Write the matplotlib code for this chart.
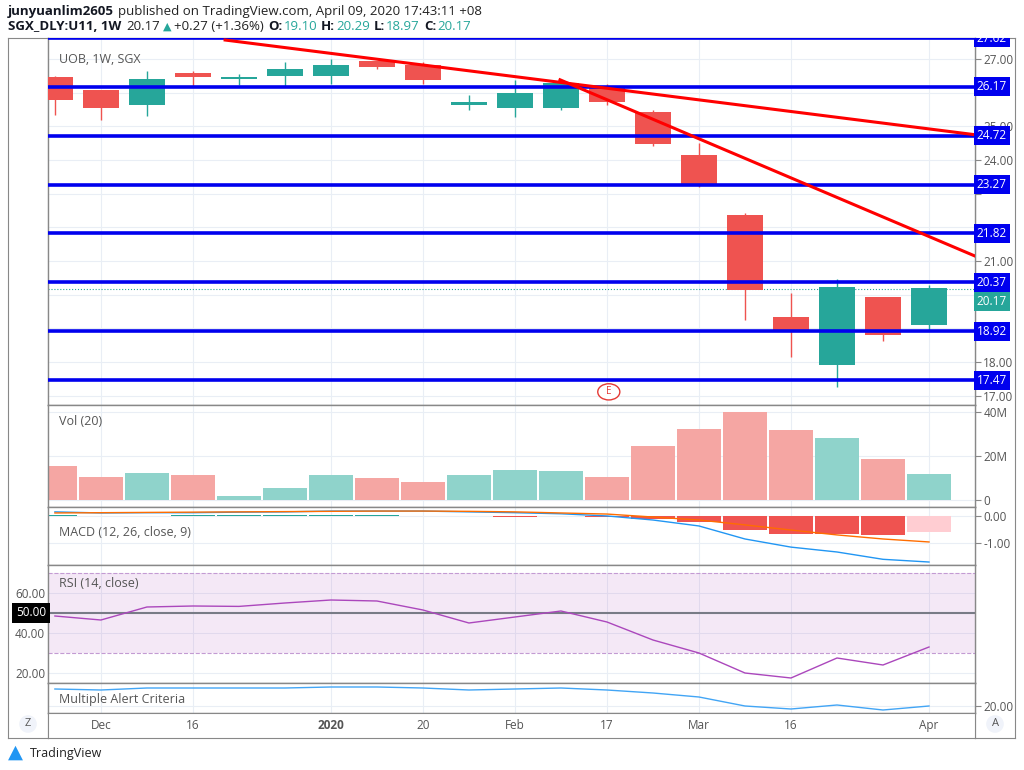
import numpy as np
import matplotlib
matplotlib.use("Agg")
import matplotlib.pyplot as plt
from matplotlib.patches import Circle
from matplotlib.transforms import Bbox, TransformedBbox

W, H = 1024, 770

# Weekly OHLC (index 0 = week of 25 Nov 2019)
opens = [26.44, 26.05, 25.63, 26.55, 26.41, 26.50, 26.50, 26.90, 26.79, 25.63,
         25.55, 25.55, 26.14, 25.40, 24.12, 22.34, 19.31, 17.92, 19.91, 19.10]
highs = [26.50, 26.05, 26.64, 26.64, 26.55, 26.90, 27.00, 26.95, 26.90, 25.93,
         26.38, 26.38, 26.26, 25.49, 24.50, 22.43, 20.06, 20.47, 19.91, 20.29]
lows = [25.34, 25.19, 25.30, 26.20, 26.23, 26.20, 26.26, 26.70, 26.26, 25.49,
        25.28, 25.49, 25.63, 24.42, 23.20, 19.25, 18.16, 17.27, 18.63, 18.97]
closes = [25.78, 25.55, 26.38, 26.47, 26.44, 26.67, 26.80, 26.76, 26.38, 25.69,
          25.96, 26.26, 25.72, 24.48, 23.23, 20.15, 18.96, 20.20, 18.81, 20.17]
volumes = [15.5, 10.5, 12.3, 11.4, 1.8, 5.5, 11.4, 10.0, 8.2, 11.4,
           13.6, 13.2, 10.5, 24.5, 32.3, 40.0, 31.8, 28.2, 18.6, 11.8]
macd = [0.15, 0.11, 0.12, 0.12, 0.14, 0.15, 0.18, 0.18, 0.18, 0.15,
        0.12, 0.08, 0.00, -0.15, -0.37, -0.85, -1.15, -1.33, -1.60, -1.70]
signal = [0.11, 0.12, 0.13, 0.14, 0.15, 0.16, 0.17, 0.18, 0.18, 0.17,
          0.15, 0.11, 0.07, -0.04, -0.15, -0.33, -0.52, -0.70, -0.85, -0.96]
hist = [0.02, 0.01, 0.01, 0.02, 0.02, 0.03, 0.03, 0.03, 0.01, -0.02,
        -0.03, -0.01, -0.04, -0.10, -0.24, -0.52, -0.67, -0.67, -0.72, -0.60]
rsi = [48.5, 46.5, 53.0, 53.5, 53.3, 55.0, 56.5, 56.0, 51.5, 45.0,
       48.0, 51.0, 45.5, 36.5, 30.0, 20.0, 17.5, 27.5, 24.0, 33.0]
alert = [37, 36, 38, 38, 38, 38, 39, 39, 38, 36, 37, 38, 36, 33, 29, 20, 17, 21, 16, 20]

levels = [27.62, 26.17, 24.72, 23.27, 21.82, 20.37, 18.92, 17.47]
trend1 = ([3.7, 20.0], [27.56, 24.75])
trend2 = ([10.98, 20.0], [26.38, 21.15])

date_ticks = [1, 3, 6, 8, 10, 12, 14, 16, 19]
date_labels = ["Dec", "16", "2020", "20", "Feb", "17", "Mar", "16", "Apr"]

UP, DN = "#26a69a", "#ef5350"
UP_L, DN_L = "#8fd3cb", "#f5a6a3"
GRID = "#e9eef5"
TXT = "#555555"
XL = (-0.15, 20.0)

plt.rcParams["font.family"] = "Open Sans"
fig = plt.figure(figsize=(W / 100, H / 100), dpi=100)


def rect(x0, y0, x1, y1):
    return [x0 / W, 1 - y1 / H, (x1 - x0) / W, (y1 - y0) / H]


def style(ax, yl):
    ax.set_xlim(*XL)
    ax.set_ylim(*yl)
    ax.set_xticks(date_ticks)
    ax.tick_params(labelbottom=False, length=0)
    ax.yaxis.tick_right()
    ax.tick_params(axis="y", length=4, color="#888", labelsize=8.5, labelcolor=TXT, pad=2)
    ax.grid(True, color=GRID, lw=0.8)
    ax.set_axisbelow(True)
    for s in ax.spines.values():
        s.set_color("#888")
        s.set_linewidth(1)


x = np.arange(len(opens))
cols = [UP if c >= o else DN for o, c in zip(opens, closes)]
panel_clip = TransformedBbox(Bbox([[0, 1 - 738 / H], [1, 1 - 38 / H]]), fig.transFigure)

# Price panel
ax = fig.add_axes(rect(48, 38, 975, 405))
style(ax, (16.73, 27.62))
ax.set_yticks(range(17, 28))
ax.set_yticklabels(["17.00", "18.00", "", "", "21.00", "", "", "24.00", "25.00", "", "27.00"])
ax.vlines(x, lows, highs, color=cols, lw=1, zorder=3)
ax.bar(x, np.abs(np.array(closes) - np.array(opens)) + 0.03, 0.78,
       bottom=np.minimum(opens, closes), color=cols, zorder=3)
for lv in levels:
    ax.axhline(lv, color="#0000ee", lw=2.6, zorder=4)
    t = ax.text(1.002, lv, f"{lv:.2f}", transform=ax.get_yaxis_transform(), color="white",
                fontsize=8.5, va="center", ha="left", zorder=6,
                bbox=dict(boxstyle="square,pad=0.25", fc="#0000ee", ec="none"))
    t.set_clip_box(panel_clip)
    t.set_clip_on(True)
ax.axhline(closes[-1], color=UP, lw=0.8, ls=":", zorder=2)
ax.annotate(f"{closes[-1]:.2f}", (1.002, closes[-1]), xycoords=ax.get_yaxis_transform(),
            xytext=(0, -9), textcoords="offset points", color="white", fontsize=8.5,
            va="center", ha="left", annotation_clip=False,
            bbox=dict(boxstyle="square,pad=0.25", fc=UP, ec="none"))
ax.plot(*trend1, color="#ff0000", lw=2.2, zorder=5, clip_on=False)
ax.plot(*trend2, color="#ff0000", lw=2.2, zorder=5)
ax.add_patch(Circle((12.04, 17.12), 0.24, transform=ax.transData, fc="white",
                    ec="#e53935", lw=1, zorder=5))
ax.text(12.04, 17.12, "E", color="#e53935", fontsize=7, ha="center", va="center", zorder=6)
ax.text(0.012, 0.96, "UOB, 1W, SGX", transform=ax.transAxes, fontsize=9, color=TXT, va="top")

# Volume panel
av = fig.add_axes(rect(48, 405, 975, 507))
style(av, (-3.2, 43.2))
av.set_yticks([0, 20, 40])
av.set_yticklabels(["0", "20M", "40M"])
av.bar(x, volumes, 0.96, color=[UP_L if c == UP else DN_L for c in cols])
av.text(0.012, 0.9, "Vol (20)", transform=av.transAxes, fontsize=9, color=TXT, va="top")

# MACD panel
am = fig.add_axes(rect(48, 507, 975, 565))
style(am, (-1.81, 0.33))
am.set_yticks([0, -1])
am.set_yticklabels(["0.00", "-1.00"])
hc = []
for i, h in enumerate(hist):
    prev = hist[i - 1] if i else 0
    if h >= 0:
        hc.append(UP if h >= prev else "#b2dfdb")
    else:
        hc.append(DN if h <= prev else "#ffcdd2")
am.bar(x, hist, 0.96, color=hc)
am.plot(x, macd, color="#2196f3", lw=1)
am.plot(x, signal, color="#ff6d00", lw=1)
am.text(0.012, 0.68, "MACD (12, 26, close, 9)", transform=am.transAxes, fontsize=9,
        color=TXT, va="top")

# RSI panel
ar = fig.add_axes(rect(48, 565, 975, 683))
style(ar, (15, 74))
ar.yaxis.tick_left()
ar.tick_params(axis="y", length=0, labelsize=8.5, labelcolor=TXT)
ar.set_yticks([20, 40, 60])
ar.set_yticklabels(["20.00", "40.00", "60.00"])
ar.axhspan(30, 70, color="#9c27b0", alpha=0.1, lw=0)
ar.axhline(70, color="#c39bd3", lw=0.8, ls="--")
ar.axhline(30, color="#c39bd3", lw=0.8, ls="--")
ar.axhline(50, color="#787b86", lw=1.5)
ar.text(-0.002, 50, "50.00", transform=ar.get_yaxis_transform(), ha="right", va="center",
        color="white", fontsize=8.5, clip_on=False,
        bbox=dict(boxstyle="square,pad=0.3", fc="black", ec="none"))
ar.plot(x, rsi, color="#ab47bc", lw=1)
ar.text(0.012, 0.9, "RSI (14, close)", transform=ar.transAxes, fontsize=9, color=TXT, va="top")

# Multiple Alert Criteria panel
aa = fig.add_axes(rect(48, 683, 975, 713))
style(aa, (13, 43))
aa.set_yticks([20])
aa.set_yticklabels(["20.00"])
aa.plot(x, alert, color="#42a5f5", lw=1)
aa.text(0.012, 0.22, "Multiple Alert Criteria", transform=aa.transAxes, fontsize=9,
        color=TXT, va="bottom")

# Date axis
ad = fig.add_axes(rect(48, 713, 975, 738))
ad.set_xlim(*XL)
ad.set_ylim(0, 1)
ad.set_yticks([])
ad.set_xticks([])
for t, lab in zip(date_ticks, date_labels):
    ad.text(t, 0.5, lab, ha="center", va="center", fontsize=8.5, color=TXT,
            fontweight="bold" if lab == "2020" else "normal")
for s in ad.spines.values():
    s.set_color("#888")

# Outer frame and side boxes
for px0, px1 in ((8, 48), (975, 1015)):
    sb = fig.add_axes(rect(px0, 38, px1, 738), facecolor="none", zorder=-1)
    sb.set_xticks([])
    sb.set_yticks([])
    for s in sb.spines.values():
        s.set_color("#888")
for cx, lab in ((28, "Z"), (995, "A")):
    fig.text(cx / W, 1 - 724 / H, lab, ha="center", va="center", fontsize=8, color=TXT,
             bbox=dict(boxstyle="circle,pad=0.3", fc="#f0f3fa", ec="none"))

# Header: chain pieces left to right (text, style, gap after in px)
renderer = fig.canvas.get_renderer()


def chain(pieces, y):
    px = 8
    for s, kw, gap in pieces:
        opts = {"fontsize": 9.5}
        opts.update(kw)
        t = fig.text(px / W, 1 - y / H, s, va="center", **opts)
        px = t.get_window_extent(renderer).x1 + gap


B = {"fontweight": "bold", "color": "#131722"}
N = {"color": "#222"}
G = {"color": UP}
chain([("junyuanlim2605", B, 4),
       ("published on TradingView.com, April 09, 2020 17:43:11 +08", N, 0)], 11)
chain([("SGX_DLY:U11, 1W", B, 5), ("20.17", N, 3),
       ("\u25b2", {"color": UP, "family": "DejaVu Sans", "fontsize": 8}, 3),
       ("+0.27 (+1.36%)", N, 4),
       ("O:", B, 1), ("19.10", G, 4), ("H:", B, 1), ("20.29", G, 4),
       ("L:", B, 1), ("18.97", G, 4), ("C:", B, 1), ("20.17", G, 0)], 27)
fig.text(8 / W, 1 - 752 / H, "\u25b2", fontsize=14, color="#2196f3", va="center",
         family="DejaVu Sans")
fig.text(30 / W, 1 - 753 / H, "TradingView", fontsize=9, color="#222", va="center")

fig.savefig("out.png", dpi=100)
